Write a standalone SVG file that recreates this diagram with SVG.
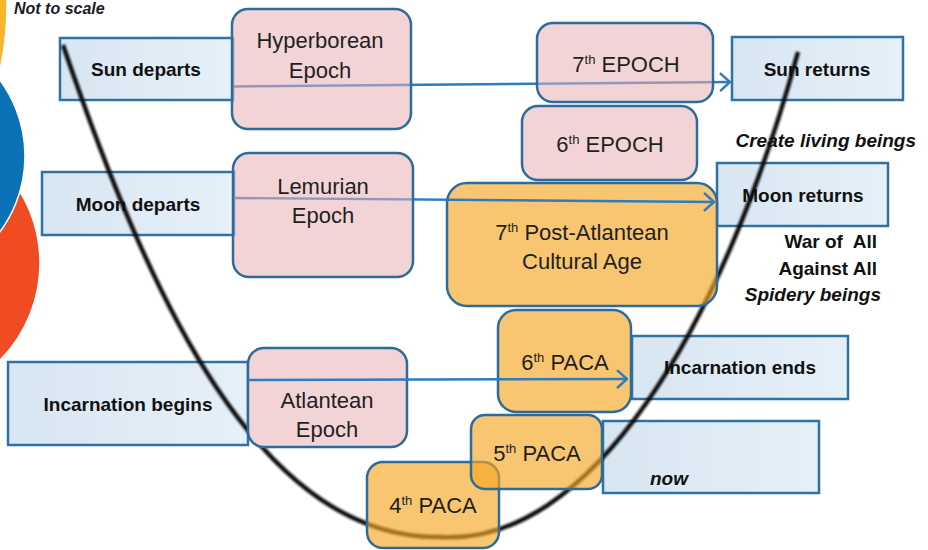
<svg xmlns="http://www.w3.org/2000/svg" width="928" height="550" viewBox="0 0 928 550">
<defs>
<linearGradient id="bluefill" x1="0" y1="0" x2="1" y2="0">
<stop offset="0" stop-color="#d8e6f2"/>
<stop offset="1" stop-color="#e6f0f8"/>
</linearGradient>
<filter id="soft" x="-5%" y="-5%" width="110%" height="110%">
<feGaussianBlur stdDeviation="1.1"/>
</filter>
<marker id="arr" viewBox="0 0 12 20" refX="11" refY="10" markerWidth="12" markerHeight="20" markerUnits="userSpaceOnUse" orient="auto">
<path d="M1,1 L11,10 L1,19" fill="none" stroke="#2e7bbf" stroke-width="2.4"/>
</marker>
<style>
.blue{fill:url(#bluefill);stroke:#2e72a6;stroke-width:2.5}
.pink{fill:#f2d4d6;stroke:#2d6b9b;stroke-width:2.5}
.pinkt{fill:#e7b1b6;fill-opacity:0.55;stroke:#2d6b9b;stroke-width:2.5}
.orange{fill:#f5a623;fill-opacity:0.65;stroke:#2d6b9b;stroke-width:2.5}
.lb{font-family:"Liberation Sans",Arial,sans-serif;font-weight:bold;font-size:19px;fill:#111;text-anchor:middle}
.lr{font-family:"Liberation Sans",Arial,sans-serif;font-size:22px;fill:#1f1f1f;text-anchor:middle}
.sup{font-size:13px}
.side{font-family:"Liberation Sans",Arial,sans-serif;font-weight:bold;font-size:19px;fill:#111;text-anchor:end}
.it{font-style:italic}
.conn{fill:none;stroke:#2e7bbf;stroke-width:2.4;marker-end:url(#arr)}
</style>
</defs>
<rect x="0" y="0" width="928" height="550" fill="#ffffff"/>

<g id="circles">
<circle cx="-98" cy="263" r="138" fill="#ef4c24" stroke="#ffffff" stroke-width="1.5"/>
<circle cx="-102" cy="156" r="127" fill="#0b72b8" stroke="#ffffff" stroke-width="1.5"/>
<circle cx="-300" cy="5" r="307" fill="#fbb42c" stroke="#ffffff" stroke-width="1.5"/>
</g>

<text x="14" y="14" font-family="Liberation Sans, Arial, sans-serif" font-weight="bold" font-style="italic" font-size="16" fill="#1a1a2a">Not to scale</text>

<g id="sun-departs"><rect class="blue" x="60" y="38" width="173" height="62"/><text class="lb" x="146" y="76">Sun departs</text></g>
<g id="moon-departs"><rect class="blue" x="42" y="172" width="192" height="63"/><text class="lb" x="138" y="211">Moon departs</text></g>
<g id="incarnation-begins"><rect class="blue" x="8" y="362" width="240" height="83"/><text class="lb" x="128" y="411">Incarnation begins</text></g>
<g id="sun-returns"><rect class="blue" x="732" y="37" width="171" height="63"/><text class="lb" x="817" y="76">Sun returns</text></g>
<g id="moon-returns"><rect class="blue" x="717" y="163" width="171" height="63"/><text class="lb" x="803" y="202">Moon returns</text></g>
<g id="incarnation-ends"><rect class="blue" x="632" y="336" width="216" height="63"/><text class="lb" x="740" y="374">Incarnation ends</text></g>
<g id="now"><rect class="blue" x="603" y="421" width="216" height="72"/><text class="lb it" x="669" y="485">now</text></g>

<g id="evolution-curve">
<path d="M63,45 C150,300 260,540 440,537 C590,547 722,330 798,52" fill="none" stroke="#111" stroke-width="4.5" filter="url(#soft)"/>
</g>

<g id="post-atlantean-7"><rect class="orange" x="447" y="183" width="270" height="123" rx="20"/><text class="lr" x="582" y="240">7<tspan class="sup" dy="-8">th</tspan><tspan dy="8"> Post-Atlantean</tspan></text><text class="lr" x="582" y="269">Cultural Age</text></g>
<g id="paca-6"><rect class="orange" x="498" y="310" width="133" height="102" rx="18"/><text class="lr" x="565" y="370">6<tspan class="sup" dy="-8">th</tspan><tspan dy="8"> PACA</tspan></text></g>
<g id="paca-4"><rect class="orange" x="367" y="462" width="132" height="86" rx="16"/><text class="lr" x="433" y="513">4<tspan class="sup" dy="-8">th</tspan><tspan dy="8"> PACA</tspan></text></g>
<g id="paca-5"><rect class="orange" x="471" y="415" width="131" height="74" rx="14"/><text class="lr" x="537" y="461">5<tspan class="sup" dy="-8">th</tspan><tspan dy="8"> PACA</tspan></text></g>
<g id="atlantean"><rect class="pink" x="248" y="348" width="159" height="99" rx="16"/><text class="lr" x="327" y="408">Atlantean</text><text class="lr" x="327" y="437">Epoch</text></g>

<g id="connectors">
<path class="conn" d="M233,86.5 L730,82"/>
<path class="conn" d="M234,198 L714,202"/>
<path class="conn" d="M248,380 L627,379"/>
</g>

<g id="hyperborean"><rect class="pinkt" x="232" y="9" width="179" height="120" rx="16"/><text class="lr" x="320" y="48">Hyperborean</text><text class="lr" x="320" y="78">Epoch</text></g>
<g id="lemurian"><rect class="pinkt" x="233" y="153" width="180" height="124" rx="16"/><text class="lr" x="323" y="194">Lemurian</text><text class="lr" x="323" y="223">Epoch</text></g>
<g id="epoch-7"><rect class="pinkt" x="537" y="23" width="176" height="79" rx="16"/><text class="lr" x="626" y="72">7<tspan class="sup" dy="-8">th</tspan><tspan dy="8"> EPOCH</tspan></text></g>
<g id="epoch-6"><rect class="pink" x="522" y="106" width="175" height="74" rx="16"/><text class="lr" x="610" y="152">6<tspan class="sup" dy="-8">th</tspan><tspan dy="8"> EPOCH</tspan></text></g>

<g id="side-notes">
<text class="side it" x="916" y="147" font-size="18">Create living beings</text>
<text class="side" x="877" y="248" xml:space="preserve">War of  All</text>
<text class="side" x="877" y="275">Against All</text>
<text class="side it" x="881" y="301">Spidery beings</text>
</g>
</svg>
